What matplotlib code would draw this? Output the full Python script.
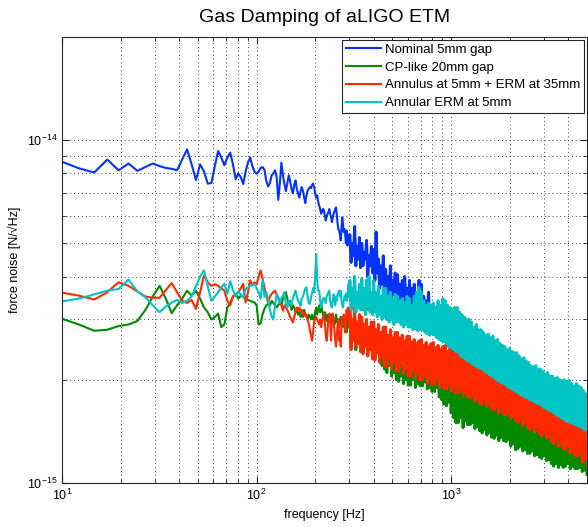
import numpy as np
import matplotlib
matplotlib.use("Agg")
import matplotlib.pyplot as plt
from matplotlib.ticker import LogLocator, NullFormatter

plt.rcParams['font.family'] = ['Liberation Sans', 'DejaVu Sans']
plt.rcParams['mathtext.fontset'] = 'custom'
plt.rcParams['mathtext.rm'] = 'Liberation Sans'

# ---- data -----------------------------------------------------------------
# spectral bin width of the FFT (Hz) and bins 4..123 (~10 Hz to ~300 Hz)
DF = 10000.0 / 4096.0
BIN_START, BIN_STOP = 4, 124
# above 300 Hz the spectra are summarised by alternating upper/lower excursions
F_BAND_MIN, F_BAND_MAX, N_BAND = 302.0, 5000.0, 200

labels = ["Nominal 5mm gap", "CP-like 20mm gap",
          "Annulus at 5mm + ERM at 35mm", "Annular ERM at 5mm"]
colors = ["#0433ff", "#008a00", "#ff2a00", "#00c4c4"]
UNIT = 1e-15  # values below are in units of 1e-15 N/rtHz

nominal_low = [
    8.7, 8.28, 8.05, 8.78, 8.17, 8.55, 8.14, 8.35, 8.55, 8.4,
    8.3, 8.25, 8.17, 8.8, 9.4, 8.5, 7.65, 8.5, 8.1, 7.47,
    7.5, 8.4, 9.3, 8.9, 8.45, 8.9, 9.2, 8.5, 7.7, 8.0,
    7.8, 7.45, 8.1, 8.6, 8.9, 8.4, 8.1, 7.98, 8.1, 8.3,
    8.35, 8.2, 7.6, 7.33, 7.5, 7.9, 8.0, 8.17, 7.8, 6.7,
    7.5, 8.6, 7.9, 7.45, 7.1, 7.5, 7.9, 7.6, 7.2, 7.0,
    7.4, 7.63, 7.2, 7.0, 6.8, 7.1, 7.3, 7.1, 6.8, 6.55,
    6.9, 7.14, 7.2, 7.3, 7.25, 7.4, 7.47, 7.3, 7.0, 6.8,
    6.9, 6.6, 6.45, 6.3, 6.1, 6.2, 6.3, 6.25, 6.0, 5.83,
    6.0, 6.1, 6.17, 6.3, 6.1, 5.96, 5.77, 5.96, 6.1, 6.2,
    6.3, 6.37, 6.0, 5.7, 5.5, 5.45, 5.3, 5.1, 5.5, 5.96,
    5.7, 5.4, 5.5, 5.3, 5.0, 5.45, 4.93, 5.3, 5.0, 5.2,
]
nominal_hi = [
    5.3, 5.0, 5.6, 4.9, 5.2, 5.0, 4.7, 5.1, 4.6, 4.9,
    4.8, 5.4, 4.5, 4.3, 4.6, 4.2, 4.0, 4.3, 3.9, 4.1,
    4.05, 3.8, 3.9, 4.0, 3.7, 3.9, 3.7, 3.8, 3.6, 3.9,
    3.8, 3.5, 3.4, 3.6, 3.3, 3.3, 3.1, 3.2, 3.0, 3.1,
    3.0, 2.8, 2.9, 2.7, 2.8, 2.7, 2.55, 2.6, 2.5, 2.45,
    2.45, 2.35, 2.4, 2.3, 2.25, 2.25, 2.2, 2.15, 2.2, 2.1,
    2.15, 2.05, 2.1, 2.0, 2.05, 2.05, 1.95, 2.0, 1.9, 1.95,
    1.95, 1.9, 1.85, 1.92, 1.85, 1.9, 1.82, 1.85, 1.8, 1.78,
    1.85, 1.75, 1.78, 1.72, 1.75, 1.75, 1.7, 1.72, 1.66, 1.7,
    1.7, 1.65, 1.62, 1.66, 1.6, 1.65, 1.6, 1.58, 1.62, 1.55,
]
nominal_lo = [
    4.4, 4.6, 4.3, 4.5, 4.25, 4.3, 4.5, 4.0, 4.3, 4.1,
    3.9, 4.1, 3.7, 3.8, 3.6, 3.5, 3.6, 3.4, 3.55, 3.45,
    3.4, 3.3, 3.2, 3.35, 3.15, 3.15, 3.0, 3.1, 2.95, 3.05,
    3.0, 2.85, 2.95, 2.8, 2.9, 2.8, 2.7, 2.75, 2.6, 2.65,
    2.55, 2.5, 2.45, 2.4, 2.35, 2.3, 2.25, 2.2, 2.15, 2.2,
    2.1, 2.05, 2.0, 2.05, 1.98, 1.95, 1.9, 1.92, 1.88, 1.85,
    1.85, 1.8, 1.82, 1.78, 1.75, 1.75, 1.72, 1.7, 1.68, 1.66,
    1.65, 1.62, 1.6, 1.58, 1.6, 1.6, 1.56, 1.55, 1.52, 1.5,
    1.5, 1.48, 1.47, 1.45, 1.46, 1.45, 1.43, 1.42, 1.4, 1.41,
    1.4, 1.38, 1.37, 1.35, 1.36, 1.35, 1.33, 1.32, 1.3, 1.3,
]

cp_low = [
    3.03, 2.9, 2.78, 2.8, 2.87, 2.9, 2.97, 3.2, 3.5, 3.76,
    3.45, 3.13, 3.3, 3.45, 3.64, 3.52, 3.64, 3.45, 3.25, 3.15,
    3.0, 3.05, 3.12, 2.85, 2.9, 3.25, 3.36, 3.5, 3.56, 3.45,
    3.52, 3.5, 3.47, 3.42, 3.4, 3.38, 3.36, 3.3, 2.9, 2.92,
    3.1, 3.22, 3.3, 3.33, 3.3, 3.4, 3.35, 3.3, 3.25, 3.3,
    3.36, 3.3, 3.45, 3.56, 3.6, 3.45, 3.3, 3.4, 3.2, 3.3,
    3.25, 3.15, 3.2, 3.1, 3.15, 3.05, 3.1, 3.05, 3.2, 3.1,
    3.05, 3.0, 3.1, 3.05, 3.0, 3.1, 3.0, 3.01, 3.15, 3.25,
    3.1, 3.2, 3.3, 3.15, 3.33, 3.2, 3.1, 3.05, 3.15, 3.0,
    3.1, 2.95, 3.05, 2.94, 3.0, 3.1, 3.05, 2.95, 3.0, 2.9,
    3.0, 3.1, 2.95, 3.0, 2.9, 2.85, 2.95, 3.05, 2.9, 3.0,
    2.85, 2.95, 2.9, 3.05, 2.85, 2.75, 2.95, 3.0, 3.1, 2.9,
]
cp_hi = [
    3.1, 2.9, 3.0, 2.85, 2.95, 2.95, 2.8, 2.9, 2.75, 2.85,
    2.85, 2.7, 2.8, 2.65, 2.75, 2.7, 2.55, 2.6, 2.5, 2.58,
    2.55, 2.45, 2.5, 2.4, 2.48, 2.45, 2.35, 2.4, 2.3, 2.38,
    2.35, 2.25, 2.3, 2.2, 2.27, 2.25, 2.15, 2.2, 2.1, 2.18,
    2.15, 2.05, 2.1, 2.0, 2.05, 2.0, 1.92, 1.96, 1.9, 1.94,
    1.9, 1.84, 1.88, 1.82, 1.85, 1.82, 1.76, 1.8, 1.74, 1.78,
    1.75, 1.68, 1.72, 1.65, 1.68, 1.65, 1.58, 1.62, 1.56, 1.6,
    1.55, 1.5, 1.53, 1.48, 1.5, 1.48, 1.44, 1.46, 1.42, 1.45,
    1.42, 1.38, 1.4, 1.36, 1.39, 1.36, 1.33, 1.35, 1.31, 1.34,
    1.32, 1.29, 1.31, 1.27, 1.3, 1.28, 1.25, 1.27, 1.23, 1.22,
]
cp_lo = [
    2.5, 2.6, 2.45, 2.55, 2.42, 2.4, 2.5, 2.35, 2.45, 2.32,
    2.3, 2.4, 2.25, 2.2, 2.15, 2.1, 2.2, 2.05, 2.1, 2.0,
    1.98, 2.05, 1.95, 2.0, 1.93, 1.93, 2.0, 1.9, 1.95, 1.92,
    1.92, 1.97, 1.88, 1.9, 1.85, 1.85, 1.9, 1.78, 1.75, 1.7,
    1.68, 1.72, 1.6, 1.55, 1.5, 1.5, 1.55, 1.45, 1.52, 1.48,
    1.48, 1.5, 1.44, 1.46, 1.42, 1.4, 1.43, 1.38, 1.4, 1.36,
    1.35, 1.38, 1.33, 1.36, 1.33, 1.32, 1.34, 1.28, 1.3, 1.25,
    1.26, 1.28, 1.24, 1.25, 1.22, 1.22, 1.24, 1.2, 1.21, 1.19,
    1.18, 1.2, 1.16, 1.17, 1.14, 1.12, 1.14, 1.11, 1.13, 1.11,
    1.12, 1.14, 1.1, 1.12, 1.1, 1.1, 1.11, 1.08, 1.09, 1.06,
]

annulus_low = [
    3.6, 3.52, 3.43, 3.6, 3.85, 3.76, 3.62, 3.5, 3.47, 3.47,
    3.65, 3.83, 3.6, 3.4, 3.35, 3.42, 3.22, 3.6, 4.03, 3.85,
    3.76, 3.8, 3.76, 3.7, 3.64, 3.4, 3.3, 3.5, 3.55, 3.6,
    3.7, 3.81, 3.36, 3.6, 3.9, 3.78, 3.85, 3.8, 4.0, 4.17,
    3.95, 3.72, 3.5, 3.36, 3.5, 3.56, 3.6, 3.64, 3.55, 3.47,
    3.4, 3.3, 3.18, 3.3, 3.25, 3.2, 3.12, 3.05, 3.0, 2.94,
    3.05, 3.15, 3.25, 3.2, 3.25, 3.15, 3.2, 3.1, 3.15, 3.07,
    3.1, 3.0, 2.92, 2.8, 2.7, 2.6, 2.75, 2.95, 3.0, 3.05,
    3.0, 2.95, 2.9, 3.0, 2.85, 2.95, 3.05, 3.12, 2.9, 2.7,
    2.6, 2.8, 3.0, 3.12, 3.05, 2.6, 3.0, 3.12, 3.0, 2.8,
    2.6, 2.5, 2.7, 2.9, 3.0, 2.6, 2.75, 2.5, 2.9, 3.05,
    2.9, 3.1, 3.0, 2.75, 2.9, 3.2, 3.0, 3.25, 3.05, 2.85,
]
annulus_hi = [
    3.2, 3.0, 3.25, 2.95, 3.1, 3.05, 2.9, 3.0, 2.85, 2.95,
    2.95, 2.8, 2.9, 2.75, 2.85, 2.85, 2.7, 2.8, 2.65, 2.75,
    2.75, 2.65, 2.7, 2.6, 2.68, 2.68, 2.58, 2.62, 2.55, 2.6,
    2.62, 2.52, 2.57, 2.5, 2.55, 2.57, 2.48, 2.52, 2.45, 2.5,
    2.52, 2.42, 2.47, 2.4, 2.45, 2.45, 2.35, 2.4, 2.32, 2.36,
    2.35, 2.25, 2.3, 2.22, 2.26, 2.25, 2.15, 2.18, 2.1, 2.14,
    2.1, 2.02, 2.06, 1.98, 2.02, 1.98, 1.9, 1.94, 1.88, 1.9,
    1.85, 1.8, 1.83, 1.77, 1.8, 1.78, 1.73, 1.75, 1.7, 1.73,
    1.72, 1.67, 1.7, 1.65, 1.68, 1.66, 1.62, 1.64, 1.6, 1.62,
    1.62, 1.57, 1.6, 1.55, 1.58, 1.58, 1.53, 1.55, 1.5, 1.52,
]
annulus_lo = [
    2.45, 2.6, 2.5, 2.55, 2.42, 2.38, 2.5, 2.35, 2.45, 2.3,
    2.28, 2.4, 2.25, 2.35, 2.2, 2.18, 2.3, 2.15, 2.25, 2.12,
    2.12, 2.2, 2.08, 2.15, 2.05, 2.05, 2.12, 2.02, 2.1, 2.0,
    2.0, 2.05, 1.95, 2.02, 1.93, 1.95, 2.0, 1.9, 1.96, 1.88,
    1.88, 1.93, 1.85, 1.9, 1.83, 1.83, 1.88, 1.8, 1.85, 1.78,
    1.77, 1.8, 1.73, 1.76, 1.7, 1.7, 1.74, 1.67, 1.7, 1.64,
    1.63, 1.67, 1.6, 1.62, 1.58, 1.58, 1.6, 1.54, 1.56, 1.52,
    1.5, 1.53, 1.47, 1.5, 1.45, 1.43, 1.46, 1.41, 1.43, 1.39,
    1.37, 1.4, 1.35, 1.37, 1.32, 1.3, 1.33, 1.28, 1.3, 1.26,
    1.25, 1.28, 1.22, 1.24, 1.2, 1.2, 1.22, 1.15, 1.18, 1.12,
]

annular_low = [
    3.38, 3.45, 3.55, 3.64, 3.68, 3.92, 3.62, 3.48, 3.3, 3.15,
    3.27, 3.36, 3.42, 3.35, 3.4, 3.5, 3.75, 4.0, 4.17, 3.75,
    3.4, 3.5, 3.6, 3.72, 3.81, 3.56, 3.88, 3.65, 3.5, 3.62,
    3.55, 3.47, 3.68, 3.72, 3.75, 3.78, 3.81, 3.7, 3.6, 3.45,
    3.9, 3.5, 3.6, 3.4, 3.2, 3.05, 3.0, 3.3, 3.56, 3.45,
    3.35, 3.45, 3.52, 3.6, 3.3, 3.25, 3.4, 3.35, 3.3, 3.47,
    3.55, 3.64, 3.5, 3.4, 3.35, 3.29, 3.45, 3.5, 3.6, 3.7,
    3.72, 3.5, 3.35, 3.33, 3.45, 3.56, 3.7, 3.6, 4.0, 4.65,
    3.9, 3.64, 3.64, 3.4, 3.25, 3.35, 3.45, 3.47, 3.4, 3.35,
    3.5, 3.55, 3.6, 3.64, 3.4, 3.3, 3.25, 3.4, 3.55, 3.45,
    3.3, 3.5, 3.4, 3.55, 3.6, 3.64, 3.5, 3.64, 3.4, 3.3,
    3.25, 3.4, 3.5, 3.45, 3.56, 3.4, 3.56, 3.7, 3.81, 3.5,
]
annular_hi = [
    3.9, 3.7, 4.0, 3.6, 3.8, 3.95, 3.7, 3.9, 4.0, 3.6,
    3.9, 3.6, 3.75, 3.5, 3.7, 3.7, 3.5, 3.6, 3.45, 3.55,
    3.5, 3.4, 3.45, 3.35, 3.5, 3.45, 3.3, 3.5, 3.6, 3.72,
    3.6, 3.4, 3.3, 3.35, 3.3, 3.35, 3.25, 3.4, 3.3, 3.45,
    3.4, 3.3, 3.25, 3.2, 3.25, 3.25, 3.15, 3.1, 3.05, 3.0,
    3.0, 2.95, 2.85, 2.9, 2.8, 2.8, 2.75, 2.7, 2.72, 2.65,
    2.68, 2.6, 2.62, 2.55, 2.52, 2.5, 2.45, 2.47, 2.42, 2.4,
    2.4, 2.35, 2.3, 2.32, 2.27, 2.25, 2.2, 2.18, 2.2, 2.15,
    2.15, 2.12, 2.08, 2.1, 2.05, 2.05, 2.02, 2.03, 2.0, 1.99,
    2.0, 1.98, 1.99, 1.95, 1.92, 1.95, 1.92, 1.9, 1.86, 1.82,
]
annular_lo = [
    3.2, 3.3, 3.15, 3.25, 3.2, 3.2, 3.1, 3.2, 3.15, 3.1,
    3.15, 3.05, 3.1, 3.0, 3.05, 3.0, 2.95, 3.0, 2.9, 2.95,
    2.95, 2.9, 2.85, 2.9, 2.85, 2.85, 2.8, 2.82, 2.78, 2.8,
    2.8, 2.75, 2.72, 2.7, 2.72, 2.7, 2.65, 2.62, 2.6, 2.58,
    2.55, 2.5, 2.48, 2.45, 2.42, 2.4, 2.35, 2.32, 2.3, 2.27,
    2.25, 2.22, 2.2, 2.18, 2.16, 2.15, 2.12, 2.1, 2.07, 2.05,
    2.03, 2.0, 1.98, 1.96, 1.95, 1.93, 1.9, 1.89, 1.87, 1.85,
    1.83, 1.81, 1.8, 1.78, 1.77, 1.75, 1.74, 1.72, 1.71, 1.7,
    1.68, 1.66, 1.65, 1.63, 1.62, 1.6, 1.58, 1.57, 1.55, 1.54,
    1.52, 1.51, 1.5, 1.49, 1.48, 1.47, 1.46, 1.45, 1.43, 1.42,
]

x_ticks = [10, 100, 1000]
y_ticks = [1e-15, 1e-14]


def assemble(low, hi, lo):
    band = np.column_stack([hi, lo]).ravel()
    return np.concatenate([np.asarray(low), band]) * UNIT


freq_low = DF * np.arange(BIN_START, BIN_STOP)
freq = np.concatenate([freq_low,
                       np.geomspace(F_BAND_MIN, F_BAND_MAX, N_BAND)])
n_low = len(freq_low)

series = [
    assemble(nominal_low, nominal_hi, nominal_lo),
    assemble(cp_low, cp_hi, cp_lo),
    assemble(annulus_low, annulus_hi, annulus_lo),
    assemble(annular_low, annular_hi, annular_lo),
]

# ---- figure ---------------------------------------------------------------
W, H = 588, 527
fig = plt.figure(figsize=(W / 100, H / 100), dpi=100)
ax = fig.add_axes([62 / W, 1 - 483 / H, (587 - 62) / W, (483 - 37) / H])

for y, c, lab in zip(series, colors, labels):
    ax.plot(freq, y, color=c, lw=1.5, label=lab)
    # the dense high-frequency part reads as a filled band
    ax.plot(freq[n_low - 1:], y[n_low - 1:], color=c, lw=2.1)

ax.set_xscale('log')
ax.set_yscale('log')
ax.set_xlim(10, 5000)
ax.set_ylim(1e-15, 2e-14)
ax.set_xticks(x_ticks)
ax.set_yticks(y_ticks)
ax.xaxis.set_minor_locator(LogLocator(base=10, subs=np.arange(2, 10)))
ax.yaxis.set_minor_locator(LogLocator(base=10, subs=np.arange(2, 10)))
ax.xaxis.set_minor_formatter(NullFormatter())
ax.yaxis.set_minor_formatter(NullFormatter())

ax.grid(True, which='both', linestyle=(0, (1, 3)), color='#444444',
        linewidth=0.7)
ax.tick_params(which='both', direction='in', top=True, right=True,
               colors='#262626', labelcolor='black', labelsize=9)
ax.tick_params(which='major', length=5)
ax.tick_params(which='minor', length=3)
for s in ax.spines.values():
    s.set_color('#262626')
    s.set_linewidth(0.8)

ax.set_title('Gas Damping of aLIGO ETM', fontsize=14, pad=11)
ax.set_xlabel('frequency [Hz]', fontsize=9)
ax.set_ylabel('force noise [N/\u221aHz]', fontsize=9)

leg = ax.legend(loc='upper right', fontsize=9.5, fancybox=False,
                edgecolor='#262626', framealpha=1, handlelength=2.6,
                handletextpad=0.35, labelspacing=0.42, borderpad=0.3,
                borderaxespad=0.2)
leg.get_frame().set_linewidth(0.8)
for h in leg.get_lines():
    h.set_linewidth(1.5)

fig.savefig('out.png', dpi=100)
